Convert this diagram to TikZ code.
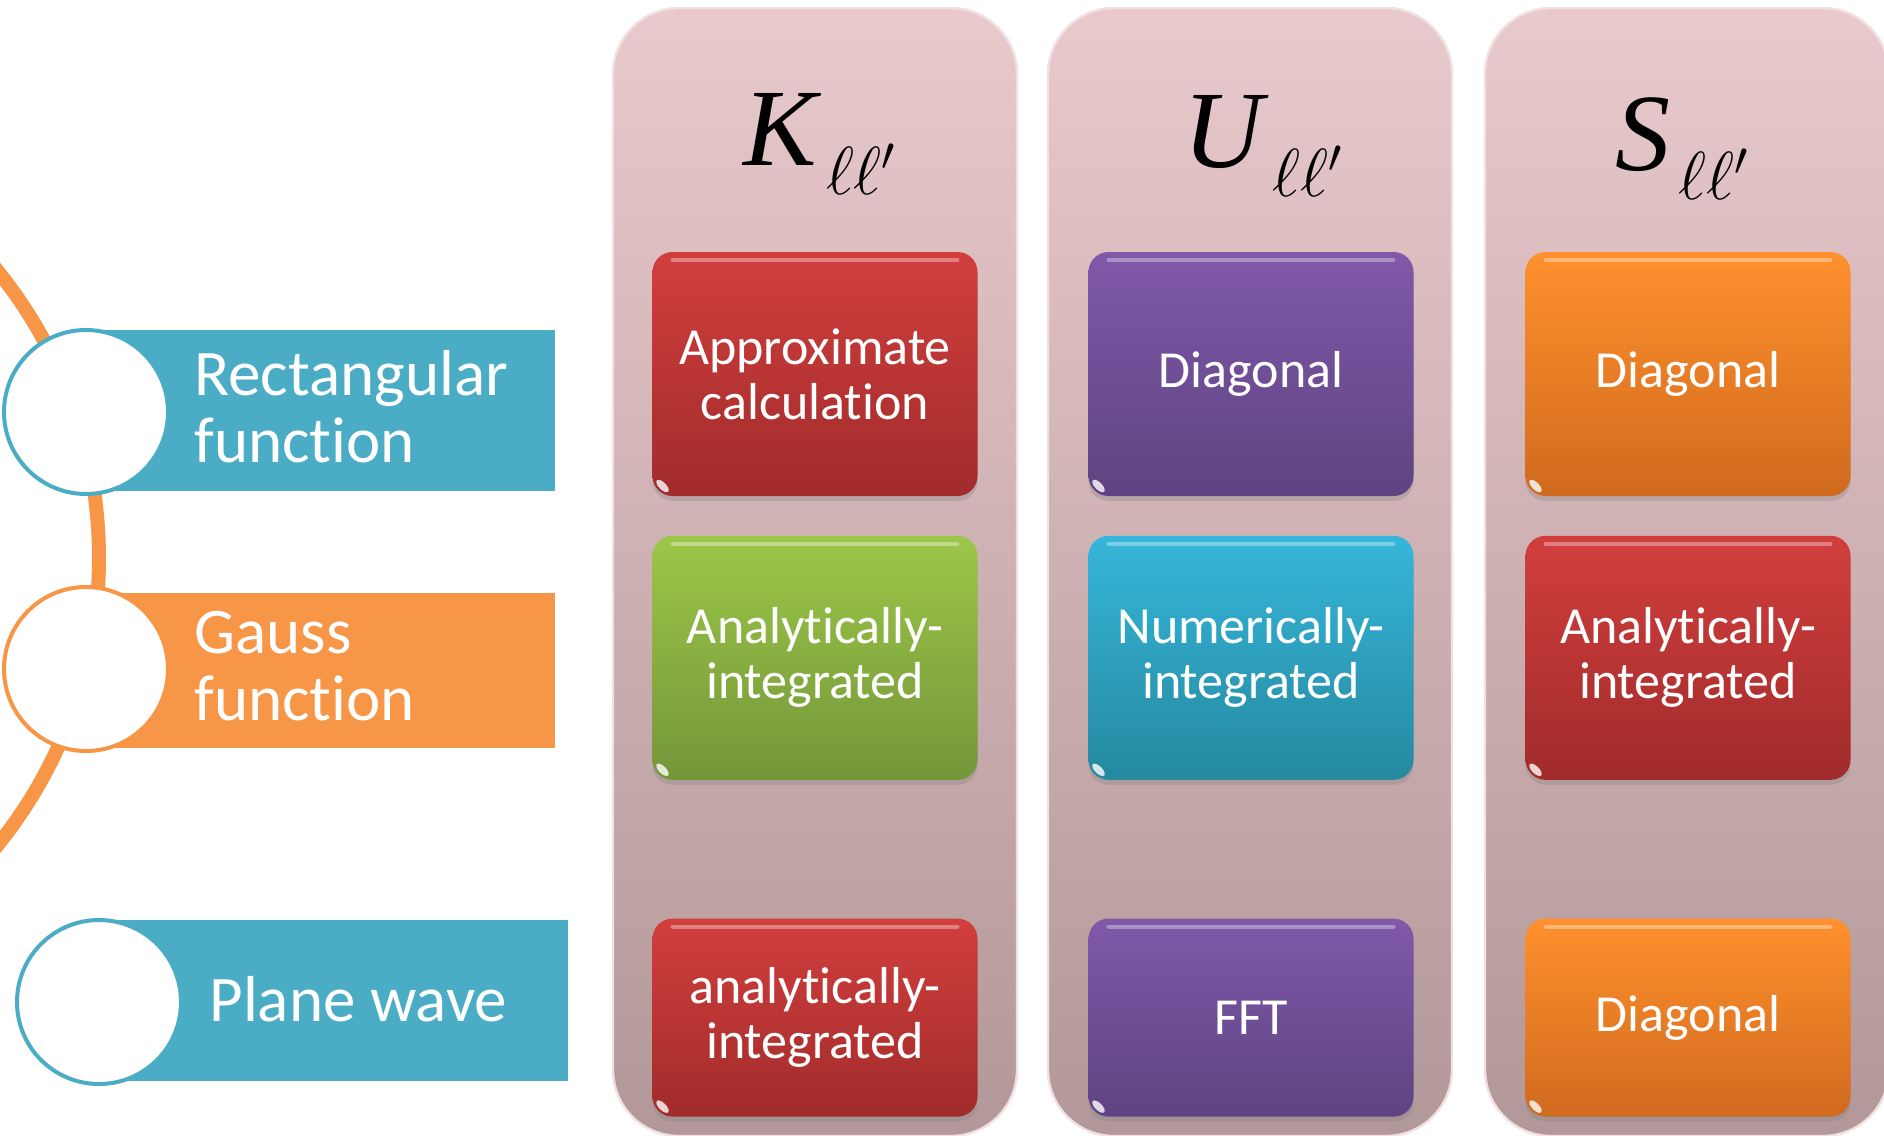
\RequirePackage{fix-cm}
\documentclass[tikz,border=0pt]{standalone}
\usepackage{fontspec}
\setmainfont[Ligatures={NoCommon}]{Carlito}
\newfontfamily\headfont{Liberation Serif}
\usepackage{tikz}
\usetikzlibrary{positioning,shadows}
\definecolor{colTop}{HTML}{E8C9CC}
\definecolor{colBot}{HTML}{B39899}
\definecolor{colEdge}{HTML}{F1E0E2}
\definecolor{redTop}{HTML}{D13F3D}
\definecolor{redBot}{HTML}{A12B2B}
\definecolor{grnTop}{HTML}{9CC748}
\definecolor{grnBot}{HTML}{74963A}
\definecolor{vioTop}{HTML}{8059A9}
\definecolor{vioBot}{HTML}{5F4382}
\definecolor{cyaTop}{HTML}{36B6DB}
\definecolor{cyaBot}{HTML}{25899F}
\definecolor{ornTop}{HTML}{FF902D}
\definecolor{ornBot}{HTML}{D06A1E}
\definecolor{barBlue}{HTML}{4BACC6}
\definecolor{barOrange}{HTML}{F79646}
\newcommand{\llsub}{\kern0.08em\raisebox{-0.27em}{\fontsize{34}{34}\selectfont$\ell\ell'$}}

\begin{document}
\begin{tikzpicture}[x=0.5pt, y=-0.5pt,
  col/.style={rounded corners=33pt, top color=colTop, bottom color=colBot, draw=colEdge, line width=1.2pt,
              minimum width=202pt, minimum height=564pt, inner sep=0pt},
  cell/.style={rounded corners=10pt, minimum width=162.5pt, minimum height=122pt, align=center, inner sep=2pt,
               text=white, font=\fontsize{26}{27.5}\selectfont,
               drop shadow={shadow xshift=0pt, shadow yshift=-2.5pt, opacity=0.3},
               path picture={\draw[white, opacity=0.35, line width=2pt, line cap=round]
                 ([shift={(10pt,-4pt)}]path picture bounding box.north west) --
                 ([shift={(-10pt,-4pt)}]path picture bounding box.north east);
                 \fill[white, opacity=0.8]
                 ([shift={(5pt,5pt)}]path picture bounding box.south west)
                 ellipse [x radius=4pt, y radius=1.8pt, rotate=-45];}},
  redcell/.style={cell, top color=redTop, bottom color=redBot},
  grncell/.style={cell, top color=grnTop, bottom color=grnBot},
  viocell/.style={cell, top color=vioTop, bottom color=vioBot},
  cyacell/.style={cell, top color=cyaTop, bottom color=cyaBot},
  orncell/.style={cell, top color=ornTop, bottom color=ornBot},
  head/.style={anchor=base, inner sep=0pt, font=\fontsize{55}{60}\selectfont},
  bar/.style={minimum width=234.5pt, minimum height=80.5pt, inner sep=0pt},
  ring/.style={circle, draw=#1, line width=2pt, fill=white, minimum size=82pt, inner sep=0pt},
  barlbl/.style={text=white, font=\fontsize{32.5}{33.5}\selectfont, align=left, inner sep=0pt},
  arcline/.style={draw=barOrange, line width=7pt}
]
\path[use as bounding box] (0,0) rectangle (1884,1135);
\clip (0,0) rectangle (1884,1135);

% ============ LEFT: BASIS FUNCTIONS ============
\draw[arcline] (-358,558) circle[radius=457];

\node[bar, fill=barBlue]   (rectbar)  at (320.5,410.5) {};
\node[bar, fill=barOrange, minimum height=77.5pt] (gaussbar) at (320.5,670.5) {};
\node[bar, fill=barBlue]   (planebar) at (333.5,1000.5) {};

\node[ring=barBlue]   (rectring)  at (86,412) {};
\node[ring=barOrange] (gaussring) at (86,669) {};
\node[ring=barBlue]   (planering) at (99,1002) {};

\node[barlbl, right=54pt of rectring.center, yshift=2.5pt]  (rectlbl)  {Rectangular\\function};
\node[barlbl, right=54pt of gaussring.center, yshift=1.5pt] (gausslbl) {Gauss\\function};
\node[barlbl, right=55pt of planering.center, yshift=1.5pt] (planelbl) {Plane wave};

% ============ COLUMNS ============
\node[col] (kcol) at (815,572) {};
\node[col] (ucol) at (1250,572) {};
\node[col] (scol) at (1687,572) {};

\node[head] (khead) at (820,165)  {{\headfont\itshape K}\llsub};
\node[head] (uhead) at (1263,167) {{\headfont\itshape U}\llsub};
\node[head] (shead) at (1682,170) {{\headfont\itshape S}\llsub};

% ============ CELLS (one row per basis) ============
\node[redcell] (krect) at (815,374)  {Approximate\\calculation};
\node[grncell, below=19.5pt of krect] (kgauss) {Analytically-\\integrated};
\node[redcell, minimum height=99pt, below=69pt of kgauss] (kplane) {analytically-\\integrated};

\node[viocell] (urect) at (1251,374) {Diagonal};
\node[cyacell, below=19.5pt of urect] (ugauss) {Numerically-\\integrated};
\node[viocell, minimum height=99pt, below=69pt of ugauss] (uplane) {FFT};

\node[orncell] (srect) at (1688,374) {Diagonal};
\node[redcell, below=19.5pt of srect] (sgauss) {Analytically-\\integrated};
\node[orncell, minimum height=99pt, below=69pt of sgauss] (splane) {Diagonal};

\end{tikzpicture}
\end{document}
